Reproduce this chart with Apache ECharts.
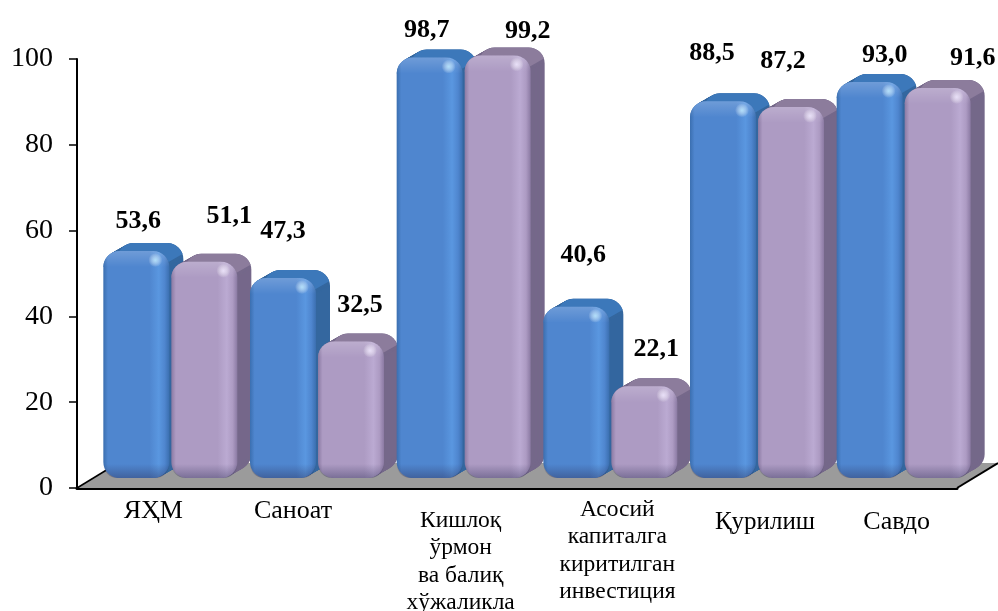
<!DOCTYPE html>
<html><head><meta charset="utf-8">
<style>html,body{margin:0;padding:0;background:#fff}#c{width:998px;height:611px}</style>
<script src="https://cdn.jsdelivr.net/npm/echarts@6/dist/echarts.min.js"></script>
</head><body><div id="c"></div>
<script>
const categories = ['ЯҲМ','Саноат','Кишлоқ\nўрмон\nва балиқ\nхўжаликла','Асосий\nкапиталга\nкиритилган\nинвестиция','Қурилиш','Савдо'];
const seriesA = [53.6,47.3,98.7,40.6,88.5,93.0];
const seriesB = [51.1,32.5,99.2,22.1,87.2,91.6];
const yTicks = {min:0,max:100,interval:20};
// label placement relative to the top-centre of each bar (px)
const labelOffsetA = [[2,-37],[0,-54],[-3,-34],[7,-59],[-11,-55],[15,-34]];
const labelOffsetB = [[25,-52],[9,-43],[30,-31],[12,-44],[-8,-53],[35,-37]];
// axis label tweaks per category
const catSpacer = [0,0,11,0,11,11];
const catShift  = [3,-4,17,27,28,13];
const catFont   = [26,26,23.5,23.5,25,26];

const SERIF = '"Liberation Serif","Times New Roman",serif';
const DX=14, DY=-8, LIFT=7, BASE=10, R=16;
const PAL = {
  a:{edge:'#3b6fb0',face:'#4f86cf',light:'#5a97e0',top:'#3c78ba',side:'#34679f',spot:'rgba(190,235,255,0.85)'},
  b:{edge:'#8b7aa3',face:'#ad9bc3',light:'#bbaad2',top:'#8c7c9c',side:'#75688a',spot:'rgba(240,232,255,0.85)'}
};
function lg(x,y,x2,y2,st){return {type:'linear',x,y,x2,y2,colorStops:st.map(s=>({offset:s[0],color:s[1]}))};}
function arc(cx,cy,r,a0,a1,n){const p=[];for(let i=0;i<=n;i++){const a=a0+(a1-a0)*i/n;p.push([cx+r*Math.cos(a),cy+r*Math.sin(a)]);}return p;}

function makeBar(side,offsets){
  return function(params,api){
    const i=api.value(0), v=api.value(1);
    const P=PAL[side];
    const c=api.coord([i,v]), c0=api.coord([i,0]);
    const band=api.size([1,0])[0];
    const w=band*0.45, gap=2;
    const mid=c[0]+20;
    const x0= side==='a'? mid-gap/2-w : mid+gap/2;
    const x1=x0+w, y0=c[1]-LIFT, y1=c0[1]-BASE;
    const h=y1-y0;
    const z2=10+i*4+(side==='a'?0:2);
    const kids=[];
    const N=14;
    for(let k=N;k>=1;k--){
      const t=k/N;
      kids.push({type:'rect',z2,shape:{x:x0+DX*t,y:y0+DY*t,width:w,height:h,r:R},style:{fill:P.side},silent:true});
    }
    const a1=arc(x0+R,y0+R,R,Math.PI*1.0,Math.PI*1.5,6);
    const a2=arc(x0+DX+R,y0+DY+R,R,Math.PI*1.25,Math.PI*1.5,4);
    const a3=arc(x1+DX-R,y0+DY+R,R,Math.PI*1.5,Math.PI*1.9,5);
    const a4=arc(x1-R,y0+R,R,Math.PI*1.9,Math.PI*1.5,5);
    kids.push({type:'polygon',z2,shape:{points:[...a1,...a2,...a3,...a4]},style:{fill:P.top},silent:true});
    kids.push({type:'rect',z2,shape:{x:x0,y:y0,width:w,height:h,r:R},silent:true,
      style:{fill:lg(0,0,1,0,[[0,P.edge],[0.07,P.face],[0.7,P.face],[0.84,P.light],[0.93,P.face],[1,P.edge]])}});
    kids.push({type:'rect',z2,shape:{x:x0,y:y0,width:w,height:16,r:[R,R,0,0]},silent:true,
      style:{fill:lg(0,0,0,1,[[0,'rgba(255,255,255,0.18)'],[1,'rgba(255,255,255,0)']])}});
    kids.push({type:'rect',z2,shape:{x:x0,y:y1-14,width:w,height:14,r:[0,0,R,R]},silent:true,
      style:{fill:lg(0,0,0,1,[[0,'rgba(40,40,80,0)'],[1,'rgba(40,40,80,0.38)']])}});
    kids.push({type:'circle',z2,shape:{cx:x1-14,cy:y0+9,r:7},silent:true,
      style:{fill:{type:'radial',x:0.5,y:0.5,r:0.5,colorStops:[{offset:0,color:P.spot},{offset:1,color:'rgba(255,255,255,0)'}]}}});
    const off=offsets[i];
    kids.push({type:'text',z2:200,silent:true,style:{
      x:(x0+x1)/2+off[0], y:c[1]+off[1], text:v.toFixed(1).replace('.',','),
      font:'bold 26px '+SERIF, fill:'#000', align:'center', verticalAlign:'middle'}});
    return {type:'group',children:kids};
  };
}

function renderFloor(params,api){
  const a=api.coord([0,0]);
  const rect=params.coordSys;
  const L=rect.x, Rt=rect.x+rect.width, y=a[1];
  return {type:'group',children:[
    {type:'polygon',z2:1,silent:true,shape:{points:[[L,y],[Rt,y],[Rt+41,y-25],[L+41,y-25]]},style:{fill:'#9b9b9b'}},
    {type:'line',z2:2,silent:true,shape:{x1:L,y1:y,x2:L+41,y2:y-25},style:{stroke:'#000',lineWidth:1.5}},
    {type:'line',z2:2,silent:true,shape:{x1:Rt,y1:y,x2:Rt+41,y2:y-25},style:{stroke:'#000',lineWidth:2}}
  ]};
}

const rich={};
catSpacer.forEach((p,i)=>{
  const s=catShift[i], l=s>0?2*s:0, r=s<0?-2*s:0, lh=catFont[i]<24?27.5:30;
  rich['r'+i]={fontFamily:SERIF,fontSize:catFont[i],color:'#000',lineHeight:lh,padding:[0,r,0,l]};
  rich['s'+i]={fontFamily:SERIF,fontSize:4,color:'#000',lineHeight:p,height:p};
});

const chart=echarts.init(document.getElementById('c'),null,{renderer:'canvas'});
chart.setOption({
  animation:false,
  backgroundColor:'#fff',
  grid:{left:77,top:59,width:880,height:429,containLabel:false,outerBoundsMode:'none'},
  xAxis:{type:'category',data:categories,
    axisLine:{lineStyle:{color:'#000',width:3},onZero:true},
    axisTick:{show:false},
    axisLabel:{interval:0,margin:8,hideOverlap:false,
      formatter:(val,idx)=>(catSpacer[idx]?`{s${idx}| }\n`:'')+val.split('\n').map(s=>`{r${idx}|${s}}`).join('\n'),
      rich}},
  yAxis:{type:'value',min:yTicks.min,max:yTicks.max,interval:yTicks.interval,
    axisLine:{show:true,lineStyle:{color:'#000',width:2}},
    axisTick:{show:true,length:8,lineStyle:{color:'#000',width:1.5}},
    splitLine:{show:false},
    axisLabel:{fontFamily:SERIF,fontSize:28,color:'#000',margin:24,padding:[4,0,0,0]}},
  series:[
    {type:'custom',name:'floor',data:[[0,0]],renderItem:renderFloor,silent:true,clip:false,z:1},
    {type:'custom',name:'A',data:seriesA.map((v,i)=>[i,v]),renderItem:makeBar('a',labelOffsetA),clip:false,z:2,encode:{x:0,y:1}},
    {type:'custom',name:'B',data:seriesB.map((v,i)=>[i,v]),renderItem:makeBar('b',labelOffsetB),clip:false,z:2,encode:{x:0,y:1}}
  ]
});
</script></body></html>
